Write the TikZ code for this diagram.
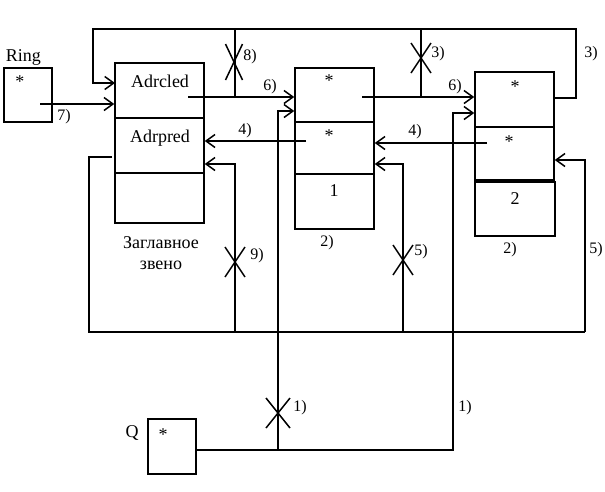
\documentclass[tikz,border=0pt]{standalone}
\usepackage{fontspec}
\setmainfont{Liberation Serif}
\usetikzlibrary{arrows.meta,shapes.misc}
\begin{document}
\begin{tikzpicture}[x=1pt,y=-1pt,line width=1.5pt,
  cell/.style={draw,rectangle,inner sep=0pt},
  big/.style={inner sep=0pt,font=\fontsize{18}{20}\selectfont},
  lab/.style={inner sep=0pt,font=\fontsize{16}{18}\selectfont},
  xmark/.style={draw,cross out,inner sep=0pt,outer sep=0pt,minimum width=20pt,minimum height=30pt,line width=1.5pt},
  arr/.style={-{Straight Barb[length=9pt,width=13pt]}}]
\useasboundingbox (0,0) rectangle (605,491);
% boxes
\node[cell,minimum width=48pt,minimum height=54pt] (ring) at (28,95) {};
\node[cell,minimum width=48pt,minimum height=55pt] (Q) at (172,446.5) {};
\node[cell,minimum width=89pt,minimum height=55pt] (h1) at (159.5,90.5) {};
\node[cell,minimum width=89pt,minimum height=55pt] (h2) at (159.5,145.5) {};
\node[cell,minimum width=89pt,minimum height=50pt] (h3) at (159.5,198) {};
\node[cell,minimum width=79pt,minimum height=54pt] (c1) at (334.5,95) {};
\node[cell,minimum width=79pt,minimum height=52pt] (c2) at (334.5,148) {};
\node[cell,minimum width=79pt,minimum height=55pt] (c3) at (334.5,201.5) {};
\node[cell,minimum width=79pt,minimum height=55pt] (d1) at (514.5,99.5) {};
\node[cell,minimum width=79pt,minimum height=53pt] (d2) at (514.5,153.5) {};
\node[cell,minimum width=80pt,minimum height=54pt] (d3) at (515,209) {};
% texts
\node[big,anchor=base west] (tRing) at (5,61) {Ring};
\node[big] (sRing) at (20,82) {*};
\node[big] (tQ) at (132,433) {Q};
\node[big] (sQ) at (163,435) {*};
\node[big,anchor=base] (tAdrc) at (160,87) {Adrcled};
\node[big,anchor=base] (tAdrp) at (160,142) {Adrpred};
\node[big,anchor=base] (tZ1) at (161,248) {Заглавное};
\node[big,anchor=base] (tZ2) at (161,269) {звено};
\node[big] (s1a) at (329,81) {*};
\node[big] (s1b) at (329,136) {*};
\node[big] (n1) at (334,191) {1};
\node[big] (s2a) at (515,87) {*};
\node[big] (s2b) at (509,142) {*};
\node[big] (n2) at (515,199) {2};
% labels
\node[lab] (l7) at (64,117) {7)};
\node[lab] (l6a) at (270,87) {6)};
\node[lab] (l8) at (250,57) {8)};
\node[lab] (l4a) at (245,131) {4)};
\node[lab] (l9) at (257,256) {9)};
\node[lab] (l3a) at (438,54) {3)};
\node[lab] (l6b) at (455,87) {6)};
\node[lab] (l4b) at (415,132) {4)};
\node[lab] (l5a) at (421,252) {5)};
\node[lab] (l3b) at (591,54) {3)};
\node[lab] (l5b) at (596,250) {5)};
\node[lab] (l1a) at (300,408) {1)};
\node[lab] (l1b) at (465,408) {1)};
\node[lab] (l2a) at (327,243) {2)};
\node[lab] (l2b) at (510,250) {2)};
% connectors
\coordinate (r7) at (40,104);
\draw[arr] (r7) -- (r7 -| h1.west);
\coordinate (top0) at (93,29);
\coordinate (top1) at (576,29);
\coordinate (h1a) at (115,83);
\coordinate (d1b) at (554,98);
\draw[arr] (d1b) -| (top1) -- (top0) |- (h1a);
\coordinate (h6) at (188,97);
\draw[arr] (h6) -- (h6 -| c1.west);
\coordinate (v8) at (235,29);
\draw (v8) -- (v8 |- h6);
\coordinate (c6) at (362,97);
\draw[arr] (c6) -- (c6 -| d1.west);
\coordinate (v3) at (421,29);
\draw (v3) -- (v3 |- c6);
\coordinate (c4) at (306,141);
\draw[arr] (c4) -- (c4 -| h2.east);
\coordinate (d4) at (487,143);
\draw[arr] (d4) -- (d4 -| c2.east);
\coordinate (bl) at (89,332);
\coordinate (br) at (585,332);
\coordinate (h2l) at (112,157);
\draw (h2l) -| (bl) -- (br);
\coordinate (b9) at (235,332);
\coordinate (a9) at (235,164);
\draw[arr] (b9) -- (a9) -- (a9 -| h2.east);
\coordinate (b5) at (403,332);
\coordinate (a5) at (403,164);
\draw[arr] (b5) -- (a5) -- (a5 -| c2.east);
\coordinate (a5r) at (585,160);
\draw[arr] (br) -- (a5r) -- (a5r -| d2.east);
\coordinate (q1) at (453,450);
\coordinate (q1t) at (453,113);
\draw[arr] (Q.east |- q1) -- (q1) -- (q1t) -- (q1t -| d1.west);
\coordinate (q2) at (278,450);
\coordinate (q2t) at (278,111);
\draw[arr] (q2) -- (q2t) -- (q2t -| c1.west);
% crosses
\node[xmark,minimum width=17pt,minimum height=36pt] (x8) at (234,62) {};
\node[xmark] (x3) at (421,58) {};
\node[xmark] (x9) at (235,262) {};
\node[xmark] (x5) at (403,260) {};
\node[xmark,minimum width=24pt] (x1) at (278,413) {};
\end{tikzpicture}
\end{document}
